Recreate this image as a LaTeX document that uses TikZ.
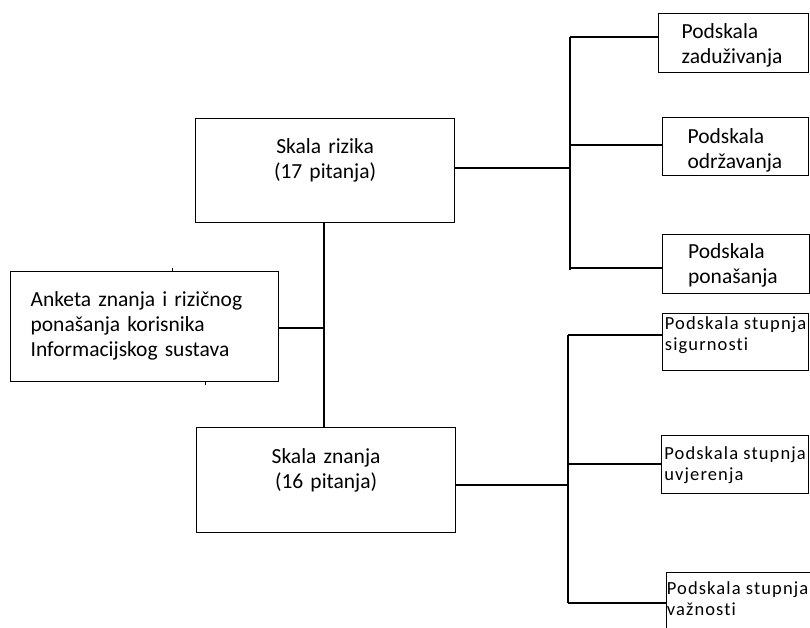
\documentclass[tikz,border=0pt]{standalone}
\usepackage{fontspec}
\setmainfont[Ligatures=NoCommon]{Carlito}
\newfontfamily\spacedfont[LetterSpace=6,Ligatures=NoCommon]{Carlito}
\begin{document}
\begin{tikzpicture}[x=1pt,y=-1pt,
  box/.style={draw, line width=1.2pt, rectangle, inner sep=0pt, anchor=north west, font=\fontsize{21.5}{25}\selectfont},
  sbox/.style={draw, line width=1.2pt, rectangle, inner sep=0pt, anchor=north west, align=left, font=\spacedfont\fontsize{18.5}{21}\selectfont},
  conn/.style={line width=1.2pt}]
\clip (0,0) rectangle (810,627);
\fill[white] (0,0) rectangle (810,627);
% main boxes
\node[box, minimum width=259, minimum height=104, text width=220, align=center, text height=16, text depth=50] (rizik) at (195,118) {Skala rizika\\(17 pitanja)};
\node[box, minimum width=259, minimum height=105, text width=220, align=center, text height=16, text depth=49] (znanje) at (196,427) {Skala znanja\\(16 pitanja)};
\node[box, minimum width=268, minimum height=110, text width=228, align=left, text height=16, text depth=56] (anketa) at (10,271) {Anketa znanja i rizičnog\\ponašanja korisnika\\Informacijskog sustava};
% right boxes, risk
\node[box, minimum width=150, minimum height=59, text width=104, align=left, text height=16, text depth=25] (zad) at (658,13) {Podskala\\zaduživanja};
\node[box, minimum width=146, minimum height=58, text width=96, align=left, text height=16, text depth=22] (odr) at (662,117) {Podskala\\održavanja};
\node[box, minimum width=147, minimum height=59, text width=96, align=left, text height=16, text depth=27] (pon) at (662,234) {Podskala\\ponašanja};
% right boxes, knowledge
\node[sbox, minimum width=146, minimum height=57, text height=35, text depth=18] (sig) at (662,313) {Podskala stupnja\\sigurnosti};
\node[sbox, minimum width=147, minimum height=58, text height=35, text depth=3] (uvj) at (661,435) {Podskala stupnja\\uvjerenja};
\node[sbox, minimum width=152, minimum height=58, text height=35, text depth=7] (vaz) at (666,572) {Podskala stupnja\hspace*{10pt}\\važnosti};
% junction coordinates
\coordinate (jA) at (324,328);
\coordinate (rA) at (570,168);
\coordinate (rT) at (570,37);
\coordinate (rB) at (570,270);
\coordinate (r2) at (570,145);
\coordinate (r3) at (570,268);
\coordinate (kA) at (568,485);
\coordinate (kT) at (568,335);
\coordinate (kB) at (568,603);
\coordinate (k2) at (568,464);
% connectors
\draw[conn] (rizik.south -| jA) -- (znanje.north -| jA);
\draw[conn] (anketa.east |- jA) -- (jA);
\draw[conn] (rizik.east |- rA) -- (rA);
\draw[conn] (rT) -- (rB);
\draw[conn] (rT) -- (zad.west |- rT);
\draw[conn] (r2) -- (odr.west |- r2);
\draw[conn] (r3) -- (pon.west |- r3);
\draw[conn] (znanje.east |- kA) -- (kA);
\draw[conn] (kT) -- (kB);
\draw[conn] (kT) -- (sig.west |- kT);
\draw[conn] (k2) -- (uvj.west |- k2);
\draw[conn] (kB) -- (vaz.west |- kB);
% small stray ticks on the survey box
\draw[line width=1pt] (anketa.north -| 172,0) -- ++(0,-3);
\draw[line width=1pt] (anketa.south -| 205,0) -- ++(0,3);
\end{tikzpicture}
\end{document}
